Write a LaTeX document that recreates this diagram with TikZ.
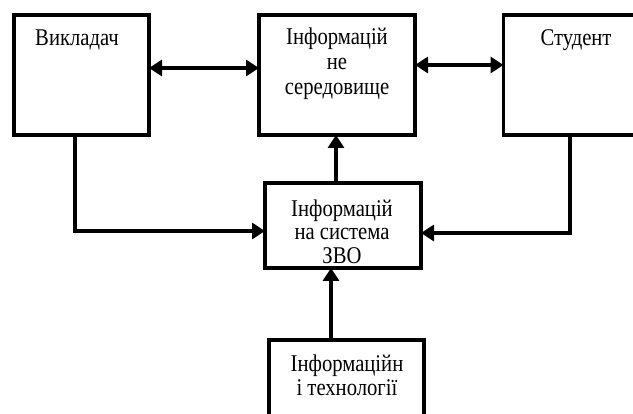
\documentclass[tikz,border=0pt]{standalone}
\usepackage{fontspec}
\setmainfont[FakeStretch=0.86]{Liberation Serif}
\usetikzlibrary{arrows.meta}
\begin{document}
\begin{tikzpicture}[x=1pt,y=-1pt,
  box/.style={draw=black, line width=3.8pt, fill=white, inner sep=0pt, outer sep=0pt, minimum width=#1},
  txt/.style={align=center, inner sep=0pt, font=\fontsize{24}{23.5}\selectfont},
  conn/.style={line width=3.4pt, -{Triangle[length=13pt,width=16pt]}},
  dconn/.style={line width=3.4pt, {Triangle[length=13pt,width=16pt]}-{Triangle[length=13pt,width=16pt]}}]
\clip (0,0) rectangle (633,414);
\fill[white] (0,0) rectangle (633,414);
% boxes
\node[box=135pt, minimum height=120pt] (vyk) at (81.5,75) {};
\node[box=156pt, minimum height=120pt] (env) at (337,75) {};
\node[box=135pt, minimum height=120pt] (stud) at (571,75) {};
\node[box=156pt, minimum height=85pt] (mid) at (343,225.5) {};
\node[box=155pt, minimum height=85pt] (bot) at (346.5,382.5) {};
% texts
\node[txt] (tvyk) at (77,40) {Викладач};
\node[txt] (tstud) at (576,40) {Студент};
\node[txt, font=\fontsize{24}{25}\selectfont] (tenv) at (337,63.5) {Інформацій\\не\\середовище};
\node[txt] (tmid) at (342,231.5) {Інформацій\\на система\\ЗВО};
\node[txt, font=\fontsize{24}{24}\selectfont] (tbot) at (347,375) {Інформаційн\\і технології};
% helper coordinates
\coordinate (ya) at (0,68);
\coordinate (yb) at (0,65);
\coordinate (yc) at (0,231);
\coordinate (yd) at (0,233);
\coordinate (xa) at (75,0);
\coordinate (xb) at (570,0);
\coordinate (xc) at (336,0);
\coordinate (xd) at (331,0);
% connectors
\draw[dconn] (vyk.east |- ya) -- (env.west |- ya);
\draw[dconn] (env.east |- yb) -- (stud.west |- yb);
\draw[conn] (vyk.south -| xa) |- (mid.west |- yc);
\draw[conn] (stud.south -| xb) |- (mid.east |- yd);
\draw[conn] (mid.north -| xc) -- (env.south -| xc);
\draw[conn] (bot.north -| xd) -- (mid.south -| xd);
\end{tikzpicture}
\end{document}
